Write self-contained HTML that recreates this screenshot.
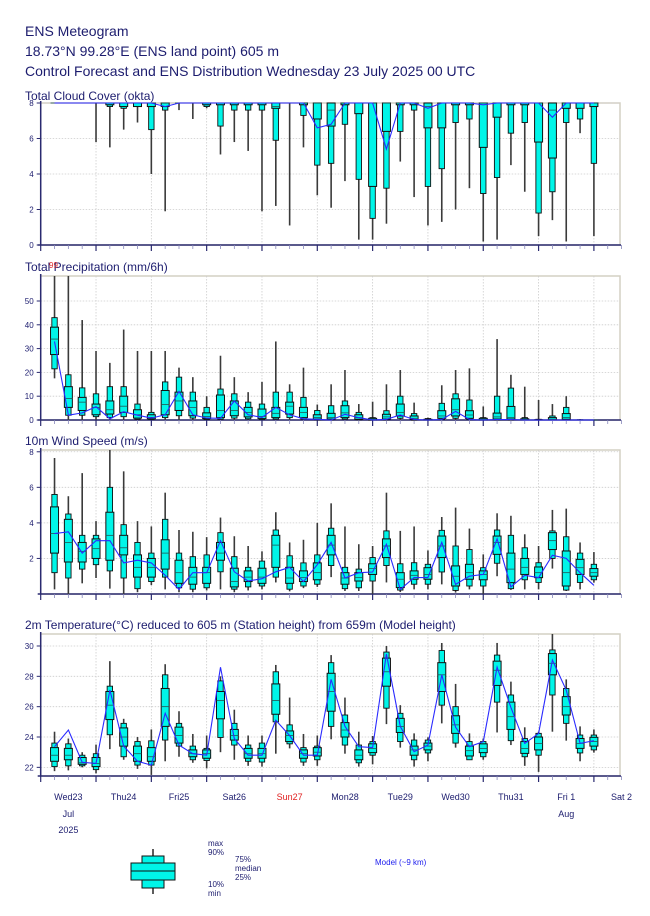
<!DOCTYPE html>
<html><head><meta charset="utf-8"><style>
body{margin:0;background:#fff;width:650px;height:916px;overflow:hidden;font-family:"Liberation Sans",sans-serif}
svg{position:absolute;left:0;top:0}
</style></head><body>
<svg id="chart" width="650" height="916" viewBox="0 0 650 916">
<text x="25" y="36" font-size="14" fill="#1c1c6e">ENS Meteogram</text>
<text x="25" y="56" font-size="14" fill="#1c1c6e">18.73°N 99.28°E (ENS land point) 605 m</text>
<text x="25" y="76" font-size="14" fill="#1c1c6e">Control Forecast and ENS Distribution Wednesday 23 July 2025 00 UTC</text>
<text x="25" y="100" font-size="12" fill="#1c1c6e">Total Cloud Cover (okta)</text>
<text x="25" y="271" font-size="12" fill="#1c1c6e">Total Precipitation (mm/6h)</text>
<text x="49" y="268" font-size="8" fill="#e03030">99</text>
<text x="25" y="445" font-size="12" fill="#1c1c6e">10m Wind Speed (m/s)</text>
<text x="25" y="629" font-size="12" fill="#1c1c6e">2m Temperature(°C) reduced to 605 m (Station height) from 659m (Model height)</text>
<g id="panels"></g>
<g id="xlabels" font-size="9" fill="#1c1c6e" text-anchor="middle"></g>
<g>
<line x1="153" y1="849" x2="153" y2="894" stroke="#333" stroke-width="1.6"/>
<rect x="142" y="856" width="22" height="32" fill="#00f5e8" stroke="#111"/>
<rect x="131" y="863" width="44" height="17" fill="#00f5e8" stroke="#111"/>
<line x1="131" y1="871" x2="175" y2="871" stroke="#111"/>
<g font-size="8" fill="#1c1c6e">
<text x="208" y="846">max</text><text x="208" y="855">90%</text>
<text x="235" y="862">75%</text><text x="235" y="871">median</text><text x="235" y="880">25%</text>
<text x="208" y="887">10%</text><text x="208" y="896">min</text>
</g>
<text x="375" y="865" font-size="8" fill="#2020ee">Model (~9 km)</text>
</g>
</svg>
<script>
const NS="http://www.w3.org/2000/svg";
const X0=40.7, DX=13.83, DAY=55.32;
// ---- Cloud cover (okta) ----
const cloudMax=[8,8,8,8,8,8,8,8,8,8,8,8,8,8,8,8,8,8,8,8,8,8,8,8,8,8,8,8,8,8,8,8,8,8,8,8,8,8,8,8];
const cloudP90=[8,8,8,8,8,8,8,8,8,8,8,8,8,8,8,8,8,8,8,8,8,8,8,8,8,8,8,8,8,8,8,8,8,8,8,8,8,8,8,8];
const cloudP75=[8,8,8,8,8,8,8,8,8,8,8,8,8,8,8,8,8,8,8,8,8,8,8,8,8,8,8,8,8,8,8,8,8,8,8,8,8,8,8,8];
const cloudMed=[8,8,8,8,8,8,8,8,8,8,8,8,8,8,8,8,7.8,8,8,8,7.6,8,8,8,8,8,8,7.8,8,8,8,8,8,8,8,8,7.6,8,8,8];
const cloudP25=[8,8,8,8,7.9,7.8,7.8,7.8,7.8,8,8,7.9,7.9,7.9,7.9,7.9,7.7,8,7.9,7.1,6.7,7.9,7.4,3.3,6.4,7.9,7.9,6.6,6.6,7.9,7.9,5.5,7.2,7.9,7.9,5.8,4.9,7.7,7.7,7.8];
const cloudP10=[8,8,8,8,7.8,7.7,7.8,6.5,7.6,8,8,7.8,6.7,7.6,7.6,7.6,5.9,8,7.3,4.5,4.6,6.8,3.7,1.5,3.2,6.4,7.6,3.3,4.3,6.9,7.1,2.9,3.8,6.3,6.9,1.8,3.0,6.9,7.1,4.6];
const cloudMin=[8,8,8,5.8,5.5,6.5,6.9,4.0,1.9,7.6,7.1,7.7,5.1,5.8,5.3,1.9,2.2,1.1,5.5,2.8,2.1,3.6,0.3,0.3,1.2,4.7,2.7,1.1,1.3,2.0,3.2,0.2,0.3,4.5,3.0,0.5,1.4,0.2,6.3,0.5];
const cloudModel=[8,8,8,8,8,8,8,8,7.8,8,8,8,8,8,8,8,8,8,8,6.6,6.8,8,8,8,5.4,8,8,7.7,8,8,8,7.9,8,8,8,8,7.2,8,8,8];
const cloudTicks=[0,2,4,6,8];
// ---- Precipitation (mm/6h) ----
const precMax=[75,70,42,29,24,38,29,29,29,22,18,10,27,18,11.7,16,33,15,22,6.5,15,21,6.7,7.7,15,21,7.3,1,14.6,21,21.7,5.7,34,19,14,8.4,6.7,10,0.4,0];
const precP90=[43,19,13.5,11,14,14,6.7,3.2,16,18,11.7,5.3,13,11,7.5,6.7,11.7,11.7,9.5,4,6,8,3.2,1,3.9,10,2.7,0.6,7,11,8.4,1,10,13.4,1,0.3,1.7,5.3,0.1,0];
const precP75=[39,14,9.5,6.7,8,10,4.3,2.2,12.4,11.7,8,3,10.5,8,5.3,4.6,5.3,7.5,5.3,2.2,2.8,6,2.2,0.7,2.4,6.7,1.7,0.3,3.9,8.9,3.9,0.7,2.9,5.7,0.5,0.1,1,2.7,0,0];
const precMed=[34,9,7.5,5.3,4.3,5.8,2.2,1.1,6.5,8,5.3,1.5,4,4,3.2,1.5,2.8,5.8,3.2,1,1,3,1,0.2,1.3,3.2,0.7,0.1,1.7,4.3,2.1,0.2,1.3,1,0.2,0,0.3,1,0,0];
const precP25=[27.5,5.3,4,2.2,2.5,3.2,0.8,0.5,2.2,4,1.8,0.6,1,1.8,1.3,0.6,1,2.5,1,0.4,0.4,1,0.3,0,0.4,1.7,0.2,0,0.7,1.7,0.7,0,0.4,0.4,0,0,0.1,0.3,0,0];
const precP10=[21.5,2,2,1.4,1,1.4,0.3,0.2,1,1.8,0.8,0.2,0.3,0.8,0.5,0.2,0.4,1,0.4,0.1,0.1,0.4,0.1,0,0.1,0.7,0,0,0.2,0.7,0.2,0,0.1,0.1,0,0,0,0.1,0,0];
const precMin=[17.5,0,0,0,0,0,0,0,0,0,0,0,0,0,0,0,0,0,0,0,0,0,0,0,0,0,0,0,0,0,0,0,0,0,0,0,0,0,0,0];
const precModel=[33,2,3,5.6,0.5,3.5,2,0.8,2.2,12,2.2,0.8,0.7,8,2.2,1.1,5.3,2.2,0.5,0.3,0,2.4,1,0,0.3,2.1,0.2,0,0.2,3.6,0.2,0,0.2,0.2,0,0,0,0,0,0];
const precTicks=[0,10,20,30,40,50];
// ---- Wind speed (m/s) ----
const windMax=[7.65,5.5,6.8,4.1,8.1,6.9,4.1,3.8,5.7,3.6,3.5,3.2,4.3,3.25,2.7,2.4,4.6,2.9,3.05,4.0,5.1,3.8,2.8,2.7,5.7,3.55,3.8,2.45,4.33,4.86,3.68,2.23,4.54,4.4,3.36,2.7,4.73,4.8,2.9,2.36];
const windP90=[5.6,4.5,3.3,3.3,6.0,3.9,2.9,2.3,4.2,2.3,2.1,2.2,3.45,2.1,1.5,1.85,3.6,2.15,1.75,2.2,3.7,1.5,1.4,2.05,3.55,1.7,1.76,1.67,3.58,2.7,2.5,1.48,3.6,3.3,2.6,1.76,3.55,3.22,2.3,1.67];
const windP75=[4.9,4.2,2.9,3.1,4.6,3.3,2.2,2.0,3.05,1.9,1.5,1.5,2.9,1.45,1.3,1.45,3.3,1.5,1.3,1.75,3.3,1.2,1.2,1.7,3.1,1.2,1.3,1.48,3.26,1.58,1.67,1.3,3.26,2.3,2.0,1.52,3.45,2.42,1.95,1.43];
const windMed=[3.4,2.9,2.4,2.55,3.3,2.6,1.5,1.5,2.3,1.2,0.95,1.2,2.3,0.7,0.95,0.95,2.75,0.9,0.92,1.2,2.75,0.9,0.92,1.43,2.7,0.83,1.05,1.1,2.7,1.0,1.2,1.1,2.9,1.4,1.5,1.2,3.0,1.2,1.48,1.2];
const windP25=[2.3,1.8,1.8,2.0,1.9,2.2,0.95,0.95,1.4,0.6,0.55,0.6,1.9,0.4,0.7,0.6,1.5,0.6,0.7,0.8,2.2,0.55,0.73,1.1,2.05,0.36,0.83,0.83,2.05,0.45,0.83,0.8,2.23,0.64,1.1,0.92,2.5,0.45,1.1,1.0];
const windP10=[1.2,0.9,1.4,1.65,1.3,0.9,0.3,0.7,0.95,0.35,0.27,0.35,1.25,0.27,0.4,0.45,0.95,0.27,0.45,0.55,1.6,0.3,0.35,0.73,1.6,0.22,0.55,0.55,1.24,0.2,0.45,0.45,1.73,0.3,0.8,0.65,2.0,0.22,0.65,0.8];
const windMin=[0.26,0,0.6,0.9,0.3,0,0.1,0.5,0.26,0.1,0.1,0.2,0.26,0.1,0.2,0.26,0.65,0.15,0.33,0.4,0.95,0.17,0.17,0,0.65,0.11,0.26,0.26,0.54,0.08,0.26,0,1.0,0.23,0.26,0.26,1.43,0.17,0.26,0.64];
const windModel=[3.4,3.5,2.3,3.0,3.0,1.75,1.9,1.75,1.05,0.26,1.2,1.2,3.0,1.25,0.73,0.86,1.25,1.5,0.7,1.65,2.9,0.9,1.2,1.24,2.8,0.26,0.92,0.92,2.9,0.54,1.0,1.1,3.1,0.4,1.05,0.92,2.18,2.0,1.2,0.49];
const windTicks=[2,4,6,8];
// ---- 2m temperature (°C) ----
const tempMax=[24.35,23.9,23.0,23.5,29.0,25.2,24.0,24.5,28.8,25.7,24.2,24.1,28.0,25.8,24.1,24.1,28.75,26.6,24.2,24.1,29.4,26.6,24.35,24.07,30.0,26.1,24.24,23.98,30.2,27.5,24.24,23.9,30.2,27.65,24.64,24.35,30.8,27.8,24.7,24.5];
const tempP90=[23.6,23.55,22.8,22.9,27.35,24.9,23.7,23.75,28.1,24.9,23.4,23.25,27.7,24.9,23.47,23.6,28.3,24.8,23.3,23.4,28.9,25.45,23.47,23.7,29.6,25.56,23.8,23.8,29.7,26.0,23.7,23.7,29.4,26.77,23.9,24.24,29.74,27.2,24.13,24.13];
const tempP75=[23.3,23.25,22.65,22.65,27.0,24.6,23.4,23.3,27.2,24.65,23.15,23.15,27.0,24.5,23.25,23.25,27.5,24.4,23.15,23.3,28.2,24.95,23.15,23.55,29.2,25.23,23.4,23.6,28.9,25.4,23.4,23.55,29.0,26.3,23.7,24.0,29.5,26.66,23.9,23.98];
const tempMed=[22.8,22.8,22.3,22.25,26.1,24.0,22.9,22.7,26.0,24.1,22.9,22.9,26.4,24.1,22.9,22.9,26.4,24.1,22.9,23.0,27.0,24.46,22.8,23.25,28.3,24.7,23.15,23.4,28.1,24.8,23.1,23.25,28.4,25.34,23.25,23.58,28.86,26.0,23.58,23.7];
const tempP25=[22.4,22.5,22.2,22.05,25.15,23.4,22.4,22.4,24.7,23.6,22.7,22.6,25.2,23.8,22.6,22.6,25.5,23.7,22.6,22.75,25.7,24.0,22.5,22.97,27.35,24.3,22.8,23.15,27.0,24.24,22.75,22.97,27.4,24.5,22.92,23.15,28.1,25.45,23.25,23.4];
const tempP10=[22.05,22.1,22.1,21.85,24.15,22.7,22.15,22.15,23.8,23.4,22.5,22.45,23.97,23.47,22.4,22.35,25.0,23.55,22.35,22.5,24.7,23.47,22.3,22.8,25.9,23.7,22.5,22.95,26.1,23.6,22.5,22.7,26.3,23.76,22.7,22.8,26.77,24.9,22.95,23.15];
const tempMin=[21.75,21.8,22.0,21.6,23.2,22.5,21.9,21.5,22.4,22.7,22.3,21.93,23.0,22.5,22.1,22.05,22.9,23.25,22.1,22.1,23.85,22.9,22.05,22.2,24.85,23.3,22.05,22.4,24.9,23.3,22.5,22.5,24.3,23.47,22.1,21.7,24.35,23.76,22.4,22.97];
const tempModel=[23.36,24.46,22.33,22.26,27.1,23.4,22.4,22.15,25.56,23.47,22.9,22.8,28.6,23.9,22.8,22.8,25.1,24.1,22.8,22.8,27.8,24.7,23.36,23.3,29.47,24.7,23.03,23.47,28.1,24.64,23.36,23.7,28.6,25.95,23.58,24.24,29.07,27.1,23.58,23.76];
const tempTicks=[22,24,26,28,30];
// ---- x axis labels ----
const dayLabels=["Wed23","Thu24","Fri25","Sat26","Sun27","Mon28","Tue29","Wed30","Thu31","Fri 1","Sat 2"];
const monthLabels=[[0,"Jul"],[9,"Aug"]];

function mk(tag,attrs,parent){const e=document.createElementNS(NS,tag);for(const k in attrs)e.setAttribute(k,attrs[k]);parent.appendChild(e);return e;}
const xOf=k=>X0+(k+1)*DX;
const root=document.getElementById('panels');

function panel(name,top,bottom,vmin,vmax,ticks,s){
  const y=v=>bottom-(Math.max(vmin,Math.min(vmax,v))-vmin)/(vmax-vmin)*(bottom-top);
  const g=mk('g',{},root);
  
  
  mk('rect',{x:X0,y:top,width:620-X0,height:bottom-top,fill:'#fff',stroke:'#d4d0c4','stroke-width':1.5},g);
  for(const t of ticks){
    mk('line',{x1:X0,x2:620,y1:y(t),y2:y(t),stroke:'#ccc','stroke-dasharray':'1.5,1.5','stroke-width':0.8},g);
    mk('line',{x1:X0-4,x2:X0,y1:y(t),y2:y(t),stroke:'#2a2a70'},g);
    const tl=mk('text',{x:X0-7,y:y(t)+3,'font-size':8,fill:'#1c1c6e','text-anchor':'end'},g);
    tl.textContent=t;
    
    
  }
  for(let d=1;d<=10;d++){const x=X0+d*DAY;mk('line',{x1:x,x2:x,y1:top,y2:bottom,stroke:'#ccc','stroke-dasharray':'1.5,1.5','stroke-width':0.8},g);}
  mk('line',{x1:X0,x2:X0,y1:top-2,y2:bottom,stroke:'#2a2a70','stroke-width':1.5},g);
  mk('line',{x1:X0-3,x2:621,y1:bottom,y2:bottom,stroke:'#2a2a70','stroke-width':1.5},g);
  for(let k=0;k<=42;k++){const x=X0+k*DX;const major=k%4===0;mk('line',{x1:x,x2:x,y1:bottom,y2:bottom+(major?6:4),stroke:major?'#2a2a70':'#8888bb','stroke-width':major?1.2:0.8},g);}
  const n=s.med.length;
  for(let i=0;i<n;i++){
    const x=xOf(i);
    const b=mk('g',{},g);
    
    
    mk('line',{x1:x,x2:x,y1:y(s.min[i]),y2:y(s.max[i]),stroke:'#3a3a3a','stroke-width':1.6},b);
    mk('rect',{x:x-2.7,y:y(s.p90[i]),width:5.4,height:y(s.p10[i])-y(s.p90[i]),fill:'#00f5e8',stroke:'#111','stroke-width':0.9},b);
    mk('rect',{x:x-4,y:y(s.p75[i]),width:8,height:y(s.p25[i])-y(s.p75[i]),fill:'#00f5e8',stroke:'#111','stroke-width':1},b);
    mk('line',{x1:x-4,x2:x+4,y1:y(s.med[i]),y2:y(s.med[i]),stroke:'#225555','stroke-width':0.8},b);
  }
  const pts=s.model.map((v,i)=>xOf(i).toFixed(1)+','+y(v).toFixed(1)).join(' ');
  const pl=mk('polyline',{points:pts,fill:'none',stroke:'#2a2aff','stroke-width':1.1},g);
  
  
}
panel('cloud',103,245,0,8,cloudTicks,{max:cloudMax,p90:cloudP90,p75:cloudP75,med:cloudMed,p25:cloudP25,p10:cloudP10,min:cloudMin,model:cloudModel});
panel('precip',276,420,0,60.5,precTicks,{max:precMax,p90:precP90,p75:precP75,med:precMed,p25:precP25,p10:precP10,min:precMin,model:precModel});
panel('wind',450,594,0,8.1,windTicks,{max:windMax,p90:windP90,p75:windP75,med:windMed,p25:windP25,p10:windP10,min:windMin,model:windModel});
panel('temp',634,776,21.43,30.79,tempTicks,{max:tempMax,p90:tempP90,p75:tempP75,med:tempMed,p25:tempP25,p10:tempP10,min:tempMin,model:tempModel});

const xl=document.getElementById('xlabels');
dayLabels.forEach((l,d)=>{
  const t=mk('text',{x:X0+(d+0.5)*DAY,y:800},xl);
  t.textContent=l;
  if(l==="Sun27")t.setAttribute('fill','#e02020');
  
  
});
monthLabels.forEach(([d,l])=>{
  const t=mk('text',{x:X0+(d+0.5)*DAY,y:817},xl);
  t.textContent=l;
  
  
});
const yr=mk('text',{x:X0+0.5*DAY,y:833},xl);
yr.textContent="2025";


</script>
</body></html>
